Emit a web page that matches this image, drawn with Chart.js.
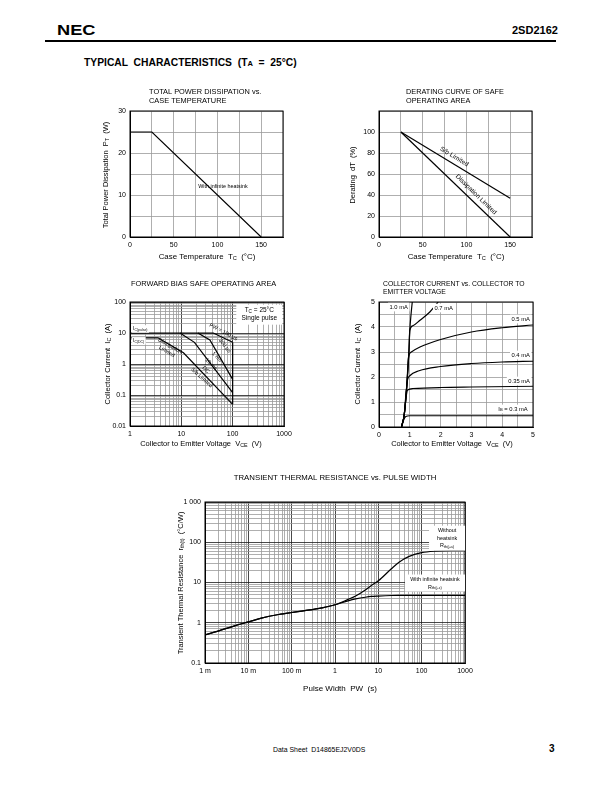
<!DOCTYPE html>
<html>
<head>
<meta charset="utf-8">
<script src="https://cdn.jsdelivr.net/npm/chart.js@4.4.0/dist/chart.umd.min.js"></script>
<style>
body { margin: 0; width: 612px; height: 792px; background: #fff; position: relative; overflow: hidden;
       font-family: "Liberation Sans", Arial, Helvetica, sans-serif; color: #000; }
canvas { position: absolute; }
.t { position: absolute; white-space: pre; line-height: 1; }
</style>
</head>
<body>
<div class="t" style="left:57px;top:23px;font-size:14px;font-weight:900;transform:scaleX(1.3);transform-origin:left top;">NEC</div>
<div class="t" style="left:512px;top:25px;font-size:11px;font-weight:bold;">2SD2162</div>
<div style="position:absolute;left:45px;top:40px;width:511px;height:1.5px;background:#000;"></div>
<div class="t" style="left:84px;top:58px;font-size:10.3px;font-weight:bold;">TYPICAL  CHARACTERISTICS  (T<span style="font-size:7.5px">A</span>  =  25°C)</div>
<div class="t" style="left:273px;top:747px;font-size:6.9px;">Data Sheet  D14865EJ2V0DS</div>
<div class="t" style="left:549px;top:744px;font-size:10px;font-weight:bold;">3</div>

<script>
const FONT = '"Liberation Sans", Arial, Helvetica, sans-serif';

// --- total power dissipation vs. case temperature
const pdTemp = [0, 25, 150];
const pdPower = [25, 25, 0];
const pdXLabels = [0, 50, 100, 150];
const pdYLabels = [0, 10, 20, 30];

// --- derating curve of safe operating area
const drTemp = [25, 150];
const drSb = [100, 37];
const drDiss = [100, 0];
const drYLabels = [0, 20, 40, 60, 80, 100];

// --- forward bias safe operating area  [VCE (V), IC (A)]
const soa100us = [[1, 10], [42, 10], [100, 5]];
const soa1ms = [[21, 10], [36, 6], [100, 0.32]];
const soa10ms = [[9.4, 10], [18, 5], [100, 0.12]];
const soaDC = [[1, 7], [3.5, 7], [11, 2.3], [100, 0.05]];
const soaVceo = [[100, 5], [100, 0.05]];
const soaXLabels = ['1', '10', '100', '1000'];
const soaYLabels = ['0.01', '0.1', '1', '10', '100'];

// --- collector current vs. collector to emitter voltage  [VCE (V), IC (A)]
const ib03 = [[0.73, 0], [0.8, 0.28], [0.87, 0.42], [1.0, 0.45], [2, 0.45], [5, 0.45]];
const ib035 = [[0.73, 0], [0.82, 0.5], [0.88, 1.2], [0.93, 1.48], [1.1, 1.54], [2, 1.58], [3, 1.6], [5, 1.63]];
const ib04 = [[0.73, 0], [0.82, 0.5], [0.88, 1.4], [0.93, 1.9], [1.0, 2.05], [1.3, 2.25], [2, 2.42], [3, 2.54], [4, 2.6], [5, 2.63]];
const ib05 = [[0.73, 0], [0.82, 0.5], [0.9, 1.6], [0.96, 2.8], [1.05, 3.0], [1.33, 3.2], [2, 3.5], [3, 3.8], [4, 3.97], [5, 4.08]];
const ib07 = [[0.73, 0], [0.82, 0.5], [0.9, 1.6], [0.97, 3.0], [1.0, 3.87], [1.1, 4.05], [1.33, 4.27], [1.65, 4.6], [1.92, 5.0]];
const ib10 = [[0.73, 0], [0.82, 0.5], [0.9, 1.6], [0.97, 3.0], [1.0, 3.87], [1.04, 4.5], [1.08, 5.0]];
const icXLabels = [0, 1, 2, 3, 4, 5];

// --- transient thermal resistance vs. pulse width
const pulseWidth = [0.001, 0.002, 0.005, 0.01, 0.02, 0.05, 0.1, 0.2, 0.5, 1, 2, 3, 5, 7, 10, 20, 30, 50, 100, 200, 500, 1000];
const rthNoSink  = [0.5, 0.62, 0.85, 1.05, 1.3, 1.6, 1.8, 2.0, 2.35, 2.8, 3.8, 4.6, 6.5, 8.5, 11, 22, 32, 44, 55, 60, 62, 62];
const rthInfSink = [0.5, 0.62, 0.85, 1.05, 1.3, 1.6, 1.8, 2.0, 2.35, 2.8, 3.5, 3.9, 4.3, 4.5, 4.6, 4.75, 4.8, 4.8, 4.8, 4.8, 4.8, 4.8];
const pwLabels = ['1 m', '10 m', '100 m', '1', '10', '100', '1000'];
const rthLabels = ['0.1', '1', '10', '100', '1 000'];

function zip(xs, ys) { return xs.map((x, i) => ({ x: x, y: ys[i] })); }
function pts(arr) { return arr.map(p => ({ x: p[0], y: p[1] })); }

function logTicks(lo, hi) {
    let t = [];
    for (let e = lo; e < hi; e++)
        for (let m = 1; m < 10; m++) t.push(+(m * Math.pow(10, e)).toPrecision(6));
    t.push(+Math.pow(10, hi).toPrecision(6));
    return t;
}
function isDecade(v) { let e = Math.log10(v); return Math.abs(e - Math.round(e)) < 1e-6; }

// rich text: a line is a string or an array of strings / [subscript]
function segs(line) {
    return (typeof line === 'string' ? [line] : line).map(s => Array.isArray(s) ? { t: s[0], sub: true } : { t: s, sub: false });
}
function fontOf(size, sub, bold) { return (bold ? 'bold ' : '') + (sub ? size * 0.72 : size) + 'px ' + FONT; }
function richWidth(ctx, line, size, bold) {
    let w = 0;
    segs(line).forEach(s => { ctx.font = fontOf(size, s.sub, bold); w += ctx.measureText(s.t).width; });
    return w;
}
function richDraw(ctx, line, x, y, size, bold) {
    segs(line).forEach(s => {
        ctx.font = fontOf(size, s.sub, bold);
        ctx.fillText(s.t, x, y + (s.sub ? size * 0.22 : 0));
        x += ctx.measureText(s.t).width;
    });
}

function notesPlugin(items, origin) {
    return {
        id: 'notes',
        afterDraw(chart) {
            let ctx = chart.ctx, a = chart.chartArea;
            ctx.save();
            ctx.strokeStyle = '#000';
            ctx.lineWidth = 1;
            ctx.strokeRect(a.left, a.top, a.right - a.left, a.bottom - a.top);
            ctx.restore();

            items.forEach(n => {
                let x, y;
                if (n.page) { x = n.x - origin[0]; y = n.y - origin[1]; }
                else { x = chart.scales.x.getPixelForValue(n.x); y = chart.scales.y.getPixelForValue(n.y); }
                let size = n.size || 7, lh = n.lh || size * 1.15;
                ctx.save();
                ctx.translate(x, y);
                if (n.rot) ctx.rotate(n.rot * Math.PI / 180);
                ctx.textBaseline = 'middle';
                ctx.textAlign = 'left';
                let widths = n.text.map(l => richWidth(ctx, l, size, n.bold));
                if (n.bg) {
                    let w = n.box ? n.box[0] : Math.max(...widths) + 3;
                    let h = n.box ? n.box[1] : n.text.length * lh + 2;
                    let bx = n.align === 'left' ? -1.5 : n.align === 'right' ? -w + 1.5 : -w / 2;
                    ctx.fillStyle = '#fff';
                    ctx.fillRect(bx, -h / 2, w, h);
                }
                ctx.fillStyle = '#000';
                n.text.forEach((l, i) => {
                    let dy = (i - (n.text.length - 1) / 2) * lh;
                    let sx = n.align === 'left' ? 0 : n.align === 'right' ? -widths[i] : -widths[i] / 2;
                    richDraw(ctx, l, sx, dy, size, n.bold);
                });
                ctx.restore();
            });
        }
    };
}

function line(data, smooth) {
    return {
        data: data,
        showLine: true,
        borderColor: '#000',
        borderWidth: 1.2,
        pointRadius: 0,
        fill: false,
        tension: smooth ? 0.4 : 0,
        cubicInterpolationMode: smooth ? 'monotone' : 'default'
    };
}

function axis(extra, fitKey, fitVal) {
    let ax = {
        border: { display: true, color: '#000', width: 1 },
        grid: { color: '#9a9a9a', lineWidth: 0.8, drawTicks: false },
        ticks: { color: '#000', font: { size: 7, family: FONT }, padding: 4, autoSkip: false, maxRotation: 0 },
        afterFit: s => { s[fitKey] = fitVal; }
    };
    Object.keys(extra).forEach(k => {
        if (k === 'ticks' || k === 'grid') Object.assign(ax[k], extra[k]);
        else ax[k] = extra[k];
    });
    return ax;
}

function linAxis(min, max, step, labels, fitKey, fitVal) {
    return axis({
        type: 'linear', min: min, max: max,
        ticks: { stepSize: step, callback: v => labels.some(l => Math.abs(l - v) < 1e-6) ? String(v) : '' }
    }, fitKey, fitVal);
}

function logAxis(lo, hi, labels, fitKey, fitVal) {
    return axis({
        type: 'logarithmic', min: Math.pow(10, lo), max: Math.pow(10, hi),
        afterBuildTicks: s => { s.ticks = logTicks(lo, hi).map(v => ({ value: v })); },
        ticks: { callback: v => isDecade(v) ? (labels[Math.round(Math.log10(v)) - lo] || '') : '' },
        grid: { color: c => (c.tick && isDecade(c.tick.value)) ? '#1a1a1a' : '#9a9a9a' }
    }, fitKey, fitVal);
}

// box = canvas [left, top, width, height] on page, plot = chart area [left, top, right, bottom] on page
function addChart(box, plot, xAxis, yAxis, datasets, notes) {
    let cv = document.createElement('canvas');
    cv.width = box[2];
    cv.height = box[3];
    cv.style.left = box[0] + 'px';
    cv.style.top = box[1] + 'px';
    cv.style.width = box[2] + 'px';
    cv.style.height = box[3] + 'px';
    document.body.appendChild(cv);

    return new Chart(cv, {
        type: 'scatter',
        data: { datasets: datasets },
        options: {
            responsive: false,
            animation: false,
            devicePixelRatio: 1,
            layout: { padding: { left: 0, bottom: 0, top: plot[1] - box[1], right: box[0] + box[2] - plot[2] } },
            plugins: { legend: { display: false }, tooltip: { enabled: false } },
            scales: {
                x: xAxis(box[1] + box[3] - plot[3]),
                y: yAxis(plot[0] - box[0])
            }
        },
        plugins: [notesPlugin(notes, [box[0], box[1]])]
    });
}

// 1) total power dissipation
addChart([95, 84, 200, 182], [130, 111, 283, 237],
    h => linAxis(0, 175, 25, pdXLabels, 'height', h),
    w => linAxis(0, 30, 5, pdYLabels, 'width', w),
    [line(zip(pdTemp, pdPower))],
    [
        { page: true, x: 149, y: 92, align: 'left', text: ['TOTAL POWER DISSIPATION vs.'], size: 7.4 },
        { page: true, x: 149, y: 100.5, align: 'left', text: ['CASE TEMPERATURE'], size: 7.4 },
        { page: true, x: 207, y: 257, text: [['Case Temperature  T', ['C'], '  (°C)']], size: 7.9 },
        { page: true, x: 106, y: 175, rot: -90, text: [['Total Power Dissipation  P', ['T'], '  (W)']], size: 7.5 },
        { x: 78, y: 12.1, align: 'left', text: ['With infinite heatsink'], size: 5.4 }
    ]);

// 2) derating curve
addChart([345, 84, 200, 182], [379, 111, 532, 237],
    h => linAxis(0, 175, 25, pdXLabels, 'height', h),
    w => linAxis(0, 120, 20, drYLabels, 'width', w),
    [line(zip(drTemp, drSb)), line(zip(drTemp, drDiss))],
    [
        { page: true, x: 406, y: 92, align: 'left', text: ['DERATING CURVE OF SAFE'], size: 7.3 },
        { page: true, x: 406, y: 100.5, align: 'left', text: ['OPERATING AREA'], size: 7.3 },
        { page: true, x: 456, y: 257, text: [['Case Temperature  T', ['C'], '  (°C)']], size: 7.9 },
        { page: true, x: 353, y: 175, rot: -90, text: ['Derating  dT  (%)'], size: 7.5 },
        { x: 86, y: 76.5, rot: 31.5, text: ['S/b Limited'], size: 6.5 },
        { x: 111, y: 40.5, rot: 44.3, text: ['Dissipation Limited'], size: 6.5 }
    ]);

// 3) forward bias SOA
addChart([95, 275, 205, 178], [130, 302, 284, 426],
    h => logAxis(0, 3, soaXLabels, 'height', h),
    w => logAxis(-2, 2, soaYLabels, 'width', w),
    [line(pts(soa100us)), line(pts(soa1ms)), line(pts(soa10ms)), line(pts(soaDC)), line(pts(soaVceo))],
    [
        { page: true, x: 131, y: 284, align: 'left', text: ['FORWARD BIAS SAFE OPERATING AREA'], size: 7.4 },
        { page: true, x: 201, y: 444, text: [['Collector to Emitter Voltage  V', ['CE'], '  (V)']], size: 7.5 },
        { page: true, x: 108, y: 364, rot: -90, text: [['Collector Current  I', ['C'], '  (A)']], size: 7.5 },
        { x: 330, y: 39, bg: true, box: [46, 20], text: [['T', ['C'], ' = 25°C'], 'Single pulse'], size: 6.5, lh: 8 },
        { x: 1.15, y: 13.5, align: 'left', bg: true, text: [['I', ['C(pulse)']]], size: 4.8 },
        { x: 1.15, y: 5.6, align: 'left', bg: true, text: [['I', ['C(DC)']]], size: 4.8 },
        { x: 5.6, y: 3.1, rot: 30, text: ['Dissipation', 'Limited'], size: 5.4, lh: 6.5 },
        { x: 66, y: 10.8, rot: 28, text: ['PW = 100 µs'], size: 5.4 },
        { x: 70, y: 3.9, rot: 52, text: ['300 µs'], size: 5.4 },
        { x: 49, y: 1.7, rot: 45, text: ['1 ms'], size: 5.4 },
        { x: 38, y: 0.98, rot: 45, text: ['10 ms'], size: 5.4 },
        { x: 30, y: 0.66, rot: 45, text: ['DC'], size: 5.4 },
        { x: 25, y: 0.36, rot: 42, text: ['S/b Limited'], size: 5.4 }
    ]);

// 4) collector current vs. VCE
addChart([345, 275, 200, 178], [379, 302, 533, 427],
    h => linAxis(0, 5, 0.5, icXLabels, 'height', h),
    w => linAxis(0, 5, 0.5, icXLabels, 'width', w),
    [line(pts(ib03), true), line(pts(ib035), true), line(pts(ib04), true),
     line(pts(ib05), true), line(pts(ib07), true), line(pts(ib10), true)],
    [
        { page: true, x: 383, y: 284, align: 'left', text: ['COLLECTOR CURRENT vs. COLLECTOR TO'], size: 6.8 },
        { page: true, x: 383, y: 292, align: 'left', text: ['EMITTER VOLTAGE'], size: 6.8 },
        { page: true, x: 452, y: 444, text: [['Collector to Emitter Voltage  V', ['CE'], '  (V)']], size: 7.5 },
        { page: true, x: 358, y: 364, rot: -90, text: [['Collector Current  I', ['C'], '  (A)']], size: 7.5 },
        { x: 0.64, y: 4.8, bg: true, text: ['1.0 mA'], size: 5.8 },
        { x: 2.1, y: 4.76, bg: true, text: ['0.7 mA'], size: 5.8 },
        { x: 4.6, y: 4.32, bg: true, text: ['0.5 mA'], size: 5.8 },
        { x: 4.6, y: 2.88, bg: true, text: ['0.4 mA'], size: 5.8 },
        { x: 4.55, y: 1.84, bg: true, text: ['0.35 mA'], size: 5.8 },
        { x: 4.35, y: 0.72, bg: true, text: [['I', ['B'], ' = 0.3 mA']], size: 5.8 }
    ]);

// 5) transient thermal resistance
addChart([170, 470, 310, 230], [205, 502, 465, 663],
    h => logAxis(-3, 3, pwLabels, 'height', h),
    w => logAxis(-1, 3, rthLabels, 'width', w),
    [line(zip(pulseWidth, rthNoSink), true), line(zip(pulseWidth, rthInfSink), true)],
    [
        { page: true, x: 335, y: 478, text: ['TRANSIENT THERMAL RESISTANCE vs. PULSE WIDTH'], size: 7.8 },
        { page: true, x: 340, y: 689, text: ['Pulse Width  PW  (s)'], size: 8 },
        { page: true, x: 181, y: 583, rot: -90, text: [['Transient Thermal Resistance  r', ['th(t)'], '  (°C/W)']], size: 7.5 },
        { x: 385, y: 126, bg: true, box: [36, 25], text: ['Without', 'heatsink', ['R', ['th(j-a)']]], size: 5.4, lh: 7.5 },
        { x: 203, y: 9.7, bg: true, box: [60, 17], text: ['With infinite heatsink', ['R', ['th(j-c)']]], size: 5.4, lh: 8 }
    ]);
</script>
</body>
</html>
